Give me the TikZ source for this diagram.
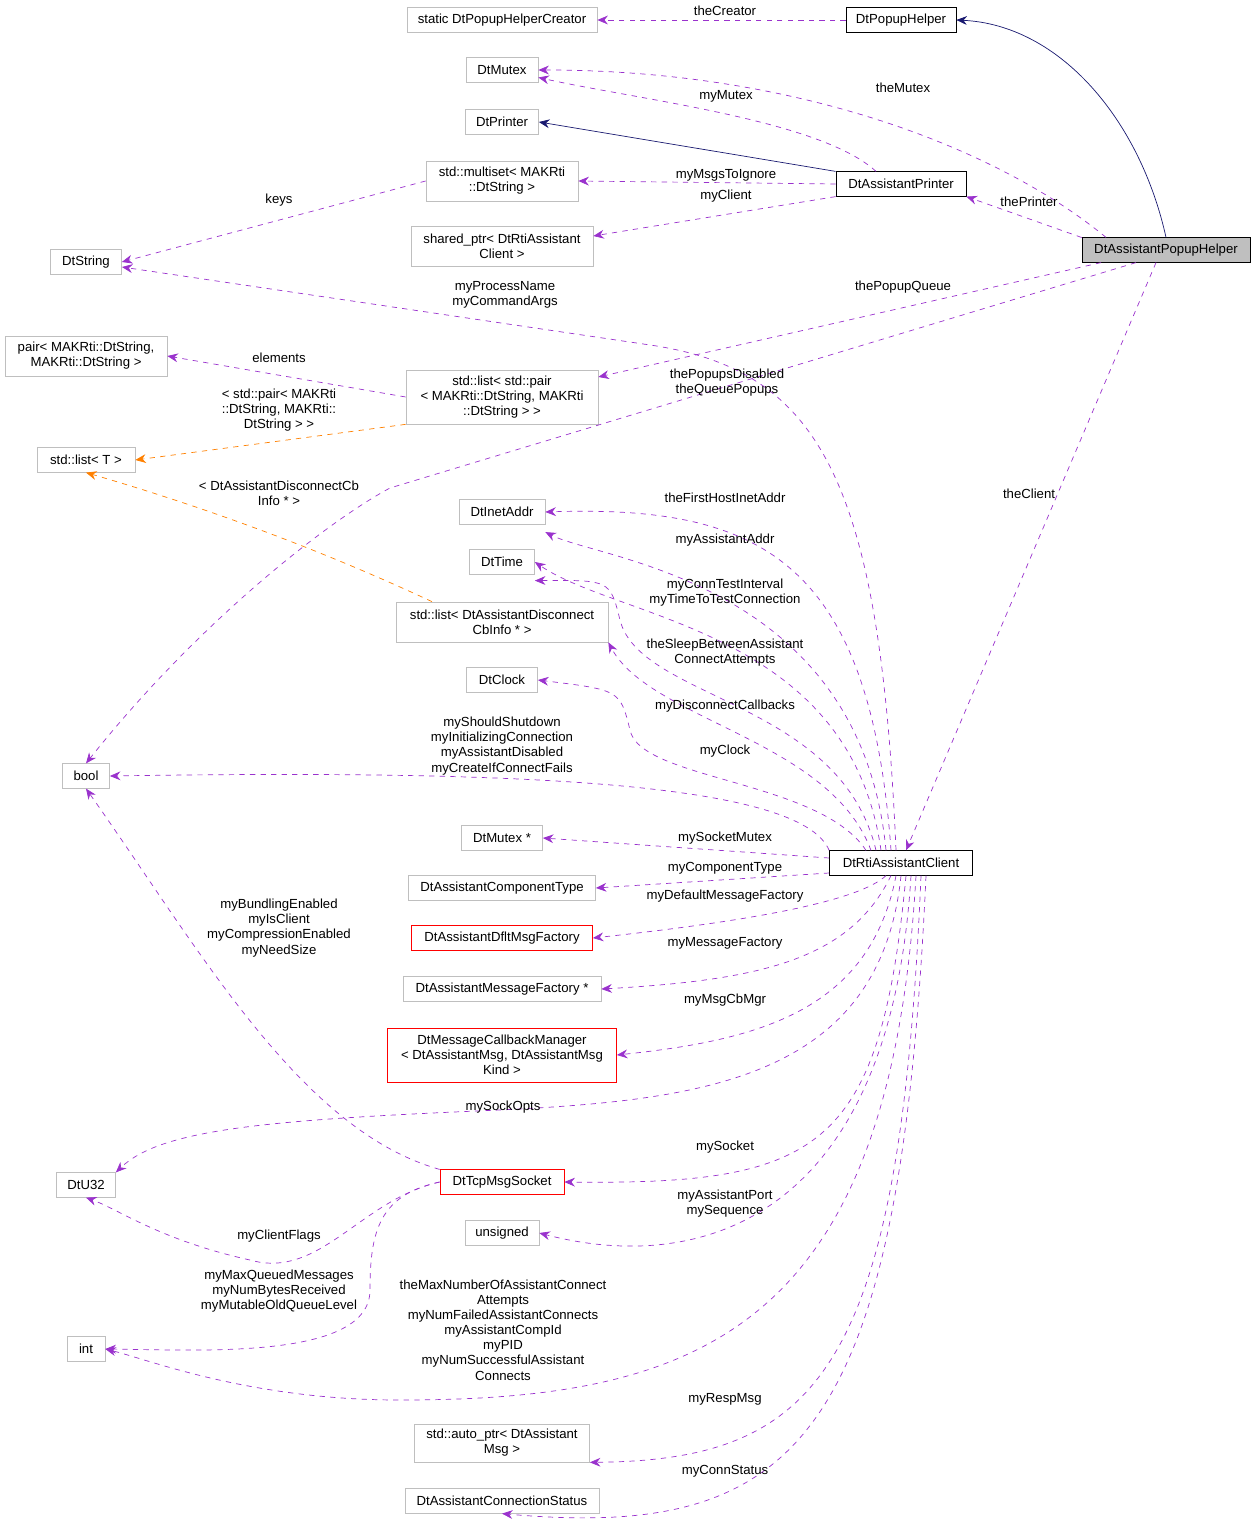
\documentclass[tikz,border=0pt]{standalone}
\usepackage{fontspec}
\setmainfont{Liberation Sans}
\usetikzlibrary{arrows.meta}
\definecolor{edgepurple}{RGB}{154,50,205}
\definecolor{edgenavy}{RGB}{25,25,112}
\definecolor{boxgray}{RGB}{191,191,191}
\tikzset{
  cls/.style={draw=boxgray,rectangle,inner sep=0pt,minimum height=0.49cm,
    align=center,font=\fontsize{7.5}{8.6}\selectfont},
  clsb/.style={cls,draw=black},
  clsr/.style={cls,draw=red},
  lbl/.style={align=center,inner sep=0pt,font=\fontsize{7.5}{8.6}\selectfont},
  dep/.style={edgepurple,dashed,-{Stealth[length=6pt,width=5pt]}},
  tmpl/.style={orange,dashed,-{Stealth[length=6pt,width=5pt]}},
  inh/.style={edgenavy,-{Stealth[length=6pt,width=5pt]}}
}
\begin{document}
\begin{tikzpicture}[x=0.02cm,y=-0.02cm]
  \useasboundingbox (0,0) rectangle (1256,1533);

  % classes
  \node[cls, minimum width=3.8cm] (creator) at (502,20) {static DtPopupHelperCreator};
  \node[clsb, minimum width=2.2cm] (popup) at (901,20) {DtPopupHelper};
  \node[cls, minimum width=1.44cm] (mutex) at (502,70) {DtMutex};
  \node[cls, minimum width=1.46cm] (printer) at (502,122) {DtPrinter};
  \node[cls, minimum width=3.04cm, minimum height=0.8cm] (multiset) at (502,181) {std::multiset< MAKRti\\::DtString >};
  \node[clsb, minimum width=2.6cm] (asstprinter) at (901,184) {DtAssistantPrinter};
  \node[cls, minimum width=3.64cm, minimum height=0.8cm] (sharedptr) at (502,246) {shared\_ptr< DtRtiAssistant\\Client >};
  \node[clsb, fill=boxgray, minimum width=3.36cm] (aph) at (1166,250) {DtAssistantPopupHelper};
  \node[cls, minimum width=1.42cm] (dtstring) at (86,262) {DtString};
  \node[cls, minimum width=3.24cm, minimum height=0.8cm] (pair) at (86,356) {pair< MAKRti::DtString,\\MAKRti::DtString >};
  \node[cls, minimum width=3.84cm, minimum height=1.08cm] (listpair) at (502,397) {std::list< std::pair\\< MAKRti::DtString, MAKRti\\::DtString > >};
  \node[cls, minimum width=1.96cm] (listT) at (86,460) {std::list< T >};
  \node[cls, minimum width=1.72cm] (inetaddr) at (502,512) {DtInetAddr};
  \node[cls, minimum width=1.3cm] (dttime) at (502,562) {DtTime};
  \node[cls, minimum width=4.24cm, minimum height=0.8cm] (listcb) at (502,622) {std::list< DtAssistantDisconnect\\CbInfo * >};
  \node[cls, minimum width=1.42cm] (clock) at (502,680) {DtClock};
  \node[cls, minimum width=0.94cm] (bool) at (86,776) {bool};
  \node[cls, minimum width=1.62cm] (mutexptr) at (502,838) {DtMutex *};
  \node[clsb, minimum width=2.86cm] (rtiac) at (901,863) {DtRtiAssistantClient};
  \node[cls, minimum width=3.74cm] (comptype) at (502,888) {DtAssistantComponentType};
  \node[clsr, minimum width=3.62cm] (dflt) at (502,938) {DtAssistantDfltMsgFactory};
  \node[cls, minimum width=3.96cm] (msgfact) at (502,989) {DtAssistantMessageFactory *};
  \node[clsr, minimum width=4.58cm, minimum height=1.08cm] (cbmgr) at (502,1055) {DtMessageCallbackManager\\< DtAssistantMsg, DtAssistantMsg\\Kind >};
  \node[cls, minimum width=1.18cm] (u32) at (86,1185) {DtU32};
  \node[clsr, minimum width=2.48cm] (tcp) at (502,1182) {DtTcpMsgSocket};
  \node[cls, minimum width=1.48cm] (unsigned) at (502,1233) {unsigned};
  \node[cls, minimum width=0.76cm] (int) at (86,1349) {int};
  \node[cls, minimum width=3.5cm, minimum height=0.76cm] (autoptr) at (502,1443) {std::auto\_ptr< DtAssistant\\Msg >};
  \node[cls, minimum width=3.88cm] (connstatus) at (502,1501) {DtAssistantConnectionStatus};

  % inheritance
  \draw[inh] (aph.north) .. controls (1140,120) and (1060,25) .. (popup.east);
  \draw[inh] (asstprinter.north west) -- (printer.east);

  % members of the popup helper and printer
  \draw[dep] (popup.west) -- (creator.east);
  \draw[dep] ([xshift=-1.2cm]aph.north) .. controls (1000,150) and (800,70) .. (mutex.east);
  \draw[dep] ([xshift=-0.5cm]asstprinter.north) .. controls (820,120) and (640,100) .. ([yshift=-0.15cm]mutex.east);
  \draw[dep] (asstprinter.west) -- (multiset.east);
  \draw[dep] (asstprinter.south west) -- ([yshift=0.2cm]sharedptr.east);
  \draw[dep] ([yshift=0.25cm]aph.west) -- (asstprinter.south east);
  \draw[dep] ([xshift=-1.3cm]aph.south) -- ([yshift=0.4cm]listpair.east);
  \draw[dep] ([xshift=-0.6cm]aph.south) -- (390,488) .. controls (330,520) and (200,620) .. (bool.north);
  \draw[dep] ([xshift=-0.2cm]aph.south) -- ([xshift=0.1cm]rtiac.north);
  \draw[dep] (multiset.west) -- (dtstring.east);
  \draw[dep] (listpair.west) -- (pair.east);
  \draw[tmpl] (listpair.south west) -- (listT.east);
  \draw[tmpl] ([xshift=-1.4cm]listcb.north) .. controls (300,540) and (180,500) .. (listT.south);

  % members of the client
  \draw[dep] ([xshift=-0.1cm]rtiac.north) .. controls (880,480) and (820,370) .. (650,345) -- ([yshift=-0.1cm]dtstring.east);
  \draw[dep] ([xshift=-0.2cm]rtiac.north) .. controls (870,560) and (760,505) .. (inetaddr.east);
  \draw[dep] ([xshift=-0.3cm]rtiac.north) .. controls (860,580) and (600,560) .. ([yshift=-0.15cm]inetaddr.south east);
  \draw[dep] ([xshift=-0.4cm]rtiac.north) .. controls (850,630) and (620,620) .. (dttime.east);
  \draw[dep] ([xshift=-0.5cm]rtiac.north) .. controls (840,700) and (640,700) .. (620,620) .. controls (610,580) .. ([yshift=-0.12cm]dttime.south east);
  \draw[dep] ([xshift=-0.6cm]rtiac.north) .. controls (830,740) and (650,720) .. (listcb.south east);
  \draw[dep] ([xshift=-0.7cm]rtiac.north) .. controls (820,780) and (640,780) .. (630,730) .. controls (620,690) .. (clock.east);
  \draw[dep] (rtiac.north west) .. controls (800,780) and (500,770) .. (bool.east);
  \draw[dep] ([yshift=0.1cm]rtiac.west) -- (mutexptr.east);
  \draw[dep] ([yshift=-0.2cm]rtiac.west) -- (comptype.east);
  \draw[dep] ([xshift=-0.3cm]rtiac.south) .. controls (860,900) and (760,920) .. (dflt.east);
  \draw[dep] ([xshift=-0.2cm]rtiac.south) .. controls (850,960) and (760,980) .. (msgfact.east);
  \draw[dep] ([xshift=-0.1cm]rtiac.south) .. controls (870,1010) and (760,1040) .. (cbmgr.east);
  \draw[dep] (rtiac.south) .. controls (880,1080) and (700,1100) .. (500,1110) .. controls (260,1120) and (160,1130) .. (u32.north east);
  \draw[dep] ([xshift=0.1cm]rtiac.south) .. controls (880,1150) and (820,1185) .. (tcp.east);
  \draw[dep] ([xshift=0.2cm]rtiac.south) .. controls (890,1220) and (700,1275) .. (unsigned.east);
  \draw[dep] ([xshift=0.3cm]rtiac.south) .. controls (890,1330) and (700,1400) .. (400,1400) .. controls (250,1400) and (150,1360) .. (int.east);
  \draw[dep] ([xshift=0.4cm]rtiac.south) .. controls (900,1370) and (820,1460) .. (autoptr.south east);
  \draw[dep] ([xshift=0.5cm]rtiac.south) .. controls (900,1440) and (800,1540) .. (connstatus.south);

  % members of the socket
  \draw[dep] (tcp.north west) .. controls (300,1130) and (200,950) .. (bool.south);
  \draw[dep] (tcp.west) .. controls (360,1200) and (320,1280) .. (250,1260) .. controls (160,1240) and (120,1210) .. (u32.south);
  \draw[dep] (tcp.west) .. controls (380,1195) and (370,1230) .. (370,1290) .. controls (370,1360) and (200,1350) .. (int.east);

  % labels
  \node[lbl] (lcreator) at (725,11) {theCreator};
  \node[lbl] (lmutex) at (903,88) {theMutex};
  \node[lbl] (lmymutex) at (726,96) {myMutex};
  \node[lbl] (lignore) at (726,175) {myMsgsToIgnore};
  \node[lbl] (lclient) at (726,196) {myClient};
  \node[lbl] (lprinter) at (1029,202) {thePrinter};
  \node[lbl] (lkeys) at (279,200) {keys};
  \node[lbl] (lqueue) at (903,287) {thePopupQueue};
  \node[lbl] (lprocess) at (505,295) {myProcessName\\myCommandArgs};
  \node[lbl] (lelements) at (279,358) {elements};
  \node[lbl] (ldisabled) at (727,383) {thePopupsDisabled\\theQueuePopups};
  \node[lbl] (lpairtmpl) at (279,410) {< std::pair< MAKRti\\::DtString, MAKRti::\\DtString > >};
  \node[lbl] (lcbtmpl) at (279,493) {< DtAssistantDisconnectCb\\Info * >};
  \node[lbl] (ltheclient) at (1029,494) {theClient};
  \node[lbl] (lhostaddr) at (725,498) {theFirstHostInetAddr};
  \node[lbl] (laddr) at (725,540) {myAssistantAddr};
  \node[lbl] (linterval) at (725,593) {myConnTestInterval\\myTimeToTestConnection};
  \node[lbl] (lsleep) at (725,653) {theSleepBetweenAssistant\\ConnectAttempts};
  \node[lbl] (lcallbacks) at (725,706) {myDisconnectCallbacks};
  \node[lbl] (lclock) at (725,751) {myClock};
  \node[lbl] (lshutdown) at (502,746) {myShouldShutdown\\myInitializingConnection\\myAssistantDisabled\\myCreateIfConnectFails};
  \node[lbl] (lsockmutex) at (725,838) {mySocketMutex};
  \node[lbl] (lcomptype) at (725,868) {myComponentType};
  \node[lbl] (ldflt) at (725,896) {myDefaultMessageFactory};
  \node[lbl] (lmsgfact) at (725,943) {myMessageFactory};
  \node[lbl] (lcbmgr) at (725,1000) {myMsgCbMgr};
  \node[lbl] (lbundling) at (279,928) {myBundlingEnabled\\myIsClient\\myCompressionEnabled\\myNeedSize};
  \node[lbl] (lsockopts) at (503,1107) {mySockOpts};
  \node[lbl] (lsocket) at (725,1147) {mySocket};
  \node[lbl] (lport) at (725,1204) {myAssistantPort\\mySequence};
  \node[lbl] (lflags) at (279,1236) {myClientFlags};
  \node[lbl] (lqueued) at (279,1291) {myMaxQueuedMessages\\myNumBytesReceived\\myMutableOldQueueLevel};
  \node[lbl] (lmaxnum) at (503,1330) {theMaxNumberOfAssistantConnect\\Attempts\\myNumFailedAssistantConnects\\myAssistantCompId\\myPID\\myNumSuccessfulAssistant\\Connects};
  \node[lbl] (lresp) at (725,1399) {myRespMsg};
  \node[lbl] (lstatus) at (725,1471) {myConnStatus};
\end{tikzpicture}
\end{document}
